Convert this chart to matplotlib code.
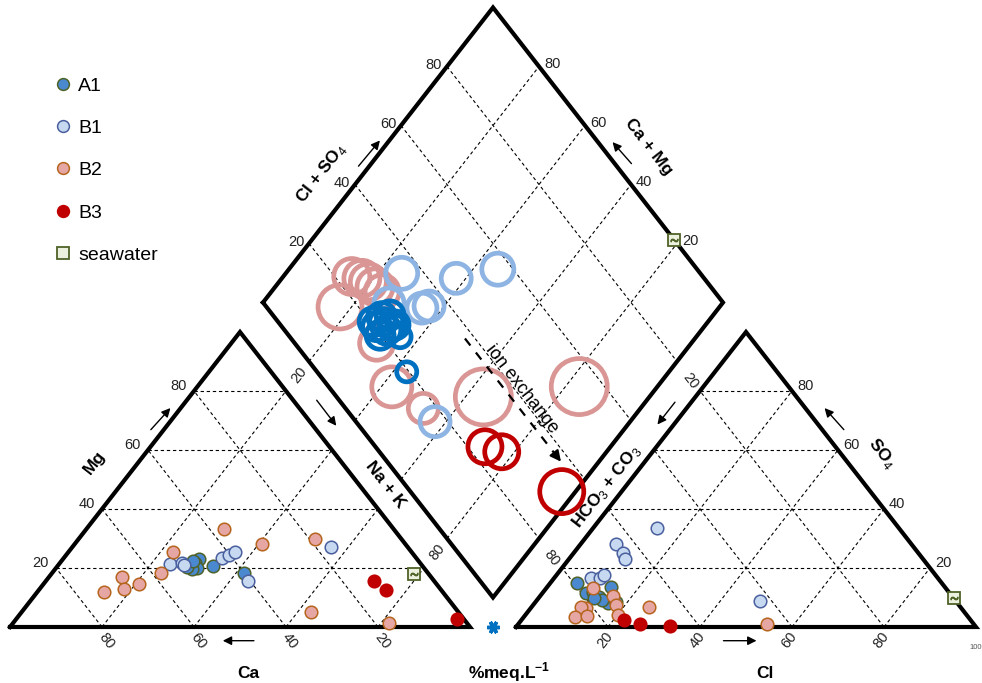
import numpy as np
import matplotlib.pyplot as plt
from matplotlib.lines import Line2D

plt.rcParams['font.family'] = ['Liberation Sans', 'DejaVu Sans']
plt.rcParams['mathtext.fontset'] = 'custom'
plt.rcParams['mathtext.rm'] = 'Liberation Sans'
plt.rcParams['mathtext.bf'] = 'Liberation Sans:bold'

# ---- data (% meq/L) ----
# cation triangle: Mg and Na+K (Ca is the rest)
cat_mg = {
    'A1': [23.1, 21.6, 19.9, 19.6, 20.4, 20.7, 18.4, 22.4],
    'B1': [21.5, 21.6, 21.0, 23.3, 24.4, 25.3, 15.7, 27.0],
    'B2': [25.3, 33.3, 28.0, 29.8, 18.4, 17.1, 13.0, 14.7, 12.0, 5.1, 1.5],
    'B3': [15.6, 12.5, 2.7],
}
cat_nak = {
    'A1': [29.6, 29.4, 30.6, 29.7, 28.2, 33.8, 41.7, 28.6],
    'B1': [24.0, 26.5, 27.3, 34.4, 35.5, 36.3, 43.9, 56.3],
    'B2': [22.7, 29.9, 40.7, 51.3, 23.6, 15.7, 18.3, 20.7, 14.4, 62.8, 81.6],
    'B3': [71.3, 75.5, 95.8],
}
# anion triangle: SO4 and Cl (HCO3 + CO3 is the rest)
an_so4 = {
    'A1': [14.8, 11.4, 12.0, 10.3, 13.7, 8.0, 8.6, 9.2, 9.7],
    'B1': [33.5, 28.0, 25.2, 22.9, 16.5, 16.5, 17.6, 8.8],
    'B2': [13.1, 10.6, 7.5, 6.5, 6.9, 3.3, 3.7, 4.1, 6.9, 1.0],
    'B3': [2.4, 0.9, 0.4],
}
an_cl = {
    'A1': [5.9, 9.5, 10.7, 13.0, 13.8, 15.9, 17.4, 14.2, 12.2],
    'B1': [13.8, 7.7, 10.6, 12.3, 8.1, 10.1, 10.4, 48.7],
    'B2': [10.1, 15.7, 18.0, 12.0, 10.7, 11.2, 13.6, 20.1, 25.5, 54.1],
    'B3': [22.3, 26.5, 33.3],
}
# diamond: Na+K, Cl+SO4 and TDS (bubble size)
dia_nak = {
    'A1': [28.2, 29.7, 28.8, 31.6, 32.5, 35.6, 31.0, 27.2, 29.4, 32.2, 43.0],
    'B1': [25.2, 37.9, 45.4, 35.5, 36.7, 27.5, 57.6],
    'B2': [17.5, 14.9, 17.4, 19.4, 21.7, 24.1, 31.6, 42.3, 52.8, 63.9, 83.0],
    'B3': [72.7, 77.2, 97.0],
}
dia_clso4 = {
    'A1': [23.4, 25.5, 20.6, 22.2, 24.9, 24.0, 19.9, 20.7, 22.8, 23.9, 19.5],
    'B1': [35.1, 46.1, 56.7, 33.6, 35.5, 27.3, 17.2],
    'B2': [16.0, 23.7, 25.6, 26.4, 27.0, 27.7, 17.8, 13.7, 16.9, 31.9, 54.5],
    'B3': [23.8, 26.6, 32.9],
}
dia_tds = {
    'A1': [980, 980, 980, 980, 980, 605, 980, 980, 900, 900, 500],
    'B1': [1280, 1125, 1280, 1125, 1125, 1125, 1125],
    'B2': [2420, 1620, 1620, 1620, 1620, 1445, 1445, 2000, 1125, 3920, 3920],
    'B3': [1445, 1445, 2420],
}
sea_mg, sea_nak = 18.0, 78.8
sea_so4, sea_cl = 9.7, 90.3

groups = ['A1', 'B1', 'B2', 'B3']
face = {'A1': '#4A89CF', 'B1': '#C6D9F1', 'B2': '#E6A6A3', 'B3': '#C00000'}
edge = {'A1': '#4F6228', 'B1': '#4A5F9E', 'B2': '#B5651D', 'B3': '#C00000'}
ring = {'A1': '#0070C0', 'B1': '#8DB4E2', 'B2': '#D99694', 'B3': '#C00000'}

H = np.sqrt(3) / 2
GAP = 0.1


def cation_xy(mg, nak):
    mg, nak = np.asarray(mg) / 100, np.asarray(nak) / 100
    return nak + 0.5 * mg, H * mg


def anion_xy(so4, cl):
    so4, cl = np.asarray(so4) / 100, np.asarray(cl) / 100
    return 1 + GAP + cl + 0.5 * so4, H * so4


def diamond_xy(nak, s):
    nak, s = np.asarray(nak) / 100, np.asarray(s) / 100
    return 0.5 + GAP / 2 + 0.5 * (nak + s), H * (1 + GAP) + H * (s - nak)


fig = plt.figure(figsize=(9.82, 6.83), dpi=100)
ax = fig.add_axes([0, 0, 1, 1])
PX, PY = 460, 295 / H
ax.set_xlim(-10 / PX, 972 / PX)
ax.set_ylim(-56 / PY, 627 / PY)
ax.axis('off')

# ---- grid ----
grid = dict(color='black', lw=0.8, ls=(0, (3, 2.5)), zorder=1)
for v in [20, 40, 60, 80]:
    w = 100 - v
    for f in (cation_xy, anion_xy):
        for a, b in [((v, 0), (v, w)), ((0, v), (w, v)), ((0, w), (w, 0))]:
            x0, y0 = f(*a)
            x1, y1 = f(*b)
            ax.plot([x0, x1], [y0, y1], **grid)
    for a, b in [((v, 0), (v, 100)), ((0, v), (100, v))]:
        x0, y0 = diamond_xy(*a)
        x1, y1 = diamond_xy(*b)
        ax.plot([x0, x1], [y0, y1], **grid)

# ---- outlines ----
outline = dict(color='black', lw=3, solid_joinstyle='miter', zorder=3)
ax.plot([0, 1, 0.5, 0], [0, 0, H, 0], **outline)
ax.plot([1 + GAP, 2 + GAP, 1.5 + GAP, 1 + GAP], [0, 0, H, 0], **outline)
dx, dy = diamond_xy([0, 100, 100, 0, 0], [0, 0, 100, 100, 0])
ax.plot(dx, dy, **outline)

# ---- points ----
for g in groups:
    x, y = cation_xy(cat_mg[g], cat_nak[g])
    ax.scatter(x, y, s=82, fc=face[g], ec=edge[g], lw=1.1, zorder=5)
    x, y = anion_xy(an_so4[g], an_cl[g])
    ax.scatter(x, y, s=82, fc=face[g], ec=edge[g], lw=1.1, zorder=5)

for g in ['B2', 'B1', 'A1', 'B3']:
    x, y = diamond_xy(dia_nak[g], dia_clso4[g])
    ax.scatter(x, y, s=0.415 * np.array(dia_tds[g]), fc='none', ec=ring[g], lw=3.4, zorder=4)

sea = [cation_xy(sea_mg, sea_nak), anion_xy(sea_so4, sea_cl),
       diamond_xy(sea_nak, sea_so4 + sea_cl)]
for x, y in sea:
    ax.plot(x, y, marker='s', ms=8, mfc='#EBF1DE', mec='#4F6228', mew=1.3, zorder=6)
    ax.plot(x, y, marker='$\\sim$', ms=5, color='#4F6228', zorder=7)

ax.plot(1 + GAP / 2, 0, marker=(6, 2, 30), ms=9, mew=2.5, color='#0070C0', zorder=6)

# ---- ion exchange arrow ----
ix, iy = diamond_xy([50, 90], [37.8, 37.8])
ax.plot(ix, iy, color='black', lw=1.6, ls=(0, (4, 4)), zorder=6)
hx, hy = diamond_xy([89, 92.5], [37.8, 37.8])
ax.annotate('', xy=(hx[1], hy[1]), xytext=(hx[0], hy[0]),
            arrowprops=dict(arrowstyle='-|>', color='black', lw=1.5, mutation_scale=16), zorder=6)
tx, ty = diamond_xy(71, 41.7)
ax.text(tx, ty, 'ion exchange', rotation=-52, ha='center', va='center', fontsize=13, zorder=6)

# ---- tick labels ----
tk = dict(fontsize=10.5, color='#222222', textcoords='offset points')
for v in [20, 40, 60, 80]:
    ax.annotate(str(v), cation_xy(v, 0), xytext=(-5, 3.6), ha='right', va='center', **tk)
    ax.annotate(str(v), cation_xy(0, 100 - v), xytext=(3, -10), ha='center', va='center',
                rotation=-52, **tk)
    ax.annotate(str(v), anion_xy(v, 100 - v), xytext=(3.6, 3.6), ha='left', va='center', **tk)
    ax.annotate(str(v), anion_xy(0, v), xytext=(-2, -9.5), ha='center', va='center',
                rotation=52, **tk)
    ax.annotate(str(v), diamond_xy(0, v), xytext=(-3.5, 1), ha='right', va='center', **tk)
    ax.annotate(str(v), diamond_xy(100 - v, 100), xytext=(3.6, 1.5), ha='left', va='center', **tk)
for v in [20, 80]:
    ax.annotate(str(v), diamond_xy(v, 0), xytext=(-7, -10), ha='center', va='center',
                rotation=52, **tk)
    ax.annotate(str(v), diamond_xy(100, 100 - v), xytext=(9.4, -13.7), ha='center', va='center',
                rotation=-52, **tk)
ax.annotate('100', anion_xy(0, 100), xytext=(-0.5, -14.5), textcoords='offset points',
            ha='center', va='center', fontsize=5.5, color='#555555')

# ---- axis names and arrows ----
lab = dict(fontsize=12.5, fontweight='bold', ha='center', va='center')
ax.text(84.3 / PX, (627 - 462.7) / PY, 'Mg', rotation=52, **lab)
ax.text(311.7 / PX, (627 - 173.3) / PY, 'Cl + SO$_4$', rotation=52, **lab)
ax.text(638.3 / PX, (627 - 146.7) / PY, 'Ca + Mg', rotation=-52, **lab)
ax.text(871.7 / PX, (627 - 453.3) / PY, 'SO$_4$', rotation=-52, **lab)
ax.text(375 / PX, (627 - 485) / PY, 'Na + K', rotation=-52, **lab)
ax.text(596.7 / PX, (627 - 486.7) / PY, 'HCO$_3$ + CO$_3$', rotation=52, **lab)
ax.text(238 / PX, -46 / PY, 'Ca', **lab)
ax.text(755 / PX, -46 / PY, 'Cl', **lab)
ax.text(499 / PX, -45 / PY, '%meq.L$^{\\mathbf{-1}}$', **lab)

arrows = [((139, 431.7), (162.3, 406)), ((346.7, 168.3), (371.7, 138.3)),
          ((623.3, 165.7), (600.7, 140)), ((835.7, 431.7), (812.7, 406)),
          ((305, 398), (328, 428)), ((666.7, 400), (645.7, 426.7)),
          ((246.7, 640.7), (210, 640.7)), ((710.7, 640.7), (749.3, 640.7))]
for (x0, y0), (x1, y1) in arrows:
    ax.annotate('', xy=(x1 / PX, (627 - y1) / PY), xytext=(x0 / PX, (627 - y0) / PY),
                arrowprops=dict(arrowstyle='-|>', color='black', lw=1, mutation_scale=13))

# ---- legend ----
handles = [Line2D([], [], ls='none', marker='o', ms=8.5, mfc=face[g], mec=edge[g], mew=1.1)
           for g in groups]
handles.append(Line2D([], [], ls='none', marker='s', ms=8, mfc='#EBF1DE', mec='#4F6228', mew=1.3))
ax.legend(handles, groups + ['seawater'], loc='upper left',
          bbox_to_anchor=(53 / 982, 1 - 77 / 683), bbox_transform=fig.transFigure,
          frameon=False, fontsize=14, handlelength=1.0, handletextpad=0.3,
          labelspacing=1.27, borderpad=0, borderaxespad=0)

fig.savefig('out.png', dpi=100)
